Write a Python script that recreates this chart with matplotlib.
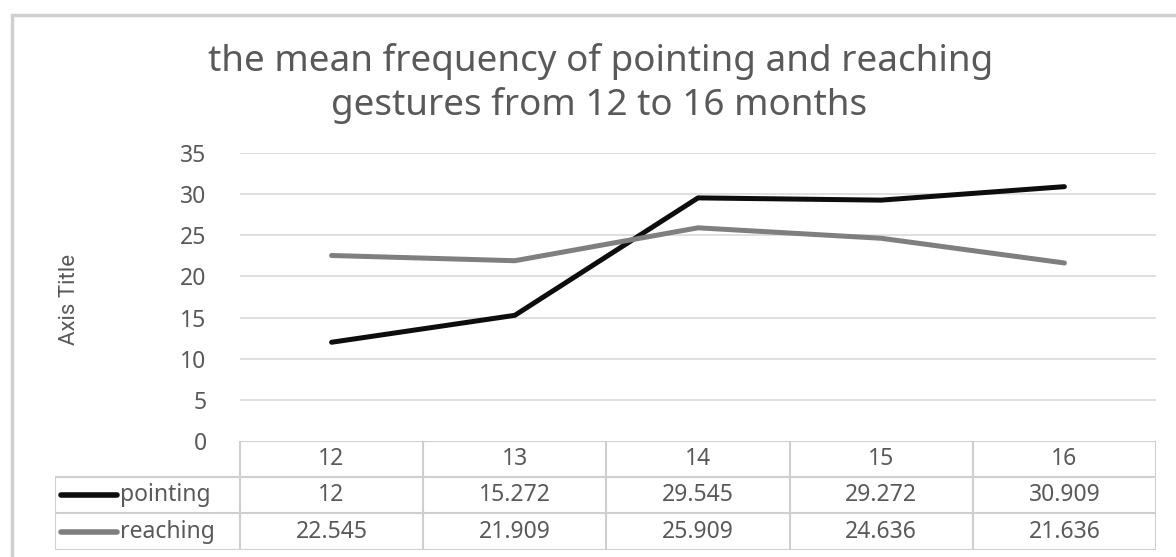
import matplotlib

matplotlib.use("Agg")
import matplotlib.pyplot as plt
from matplotlib.patches import Rectangle

plt.rcParams["font.family"] = ["Noto Sans", "DejaVu Sans"]

months = ["12", "13", "14", "15", "16"]
pointing = [12, 15.272, 29.545, 29.272, 30.909]
reaching = [22.545, 21.909, 25.909, 24.636, 21.636]
pointing_labels = ["12", "15.272", "29.545", "29.272", "30.909"]
reaching_labels = ["22.545", "21.909", "25.909", "24.636", "21.636"]
yticks = [0, 5, 10, 15, 20, 25, 30, 35]

W, H = 1176, 557
TEXT = "#595959"
GRID = "#dcdcdc"
BLACK = "#0d0d0d"
GREY = "#7f7f7f"
FS = 16.5

fig = plt.figure(figsize=(W / 100, H / 100), dpi=100)
fig.patch.set_facecolor("white")

# outer chart border
fig.patches.append(Rectangle((12 / W, -0.02), 1.1, (H - 15) / H + 0.02,
                             transform=fig.transFigure, fill=False,
                             edgecolor="#d0d0d0", linewidth=2.5))

fig.text(601 / W, (H - 62) / H, "the mean frequency of pointing and reaching",
         ha="center", va="center", fontsize=26.5, color=TEXT)
fig.text(599 / W, (H - 105) / H, "gestures from 12 to 16 months",
         ha="center", va="center", fontsize=26.5, color=TEXT)

x0, x1 = 240, 1156
y_top, y_base = 153, 441
ax = fig.add_axes([x0 / W, (H - y_base) / H, (x1 - x0) / W, (y_base - y_top) / H])
x = list(range(len(months)))
ax.plot(x, pointing, color=BLACK, linewidth=3.6, solid_capstyle="round",
        solid_joinstyle="round", zorder=3)
ax.plot(x, reaching, color=GREY, linewidth=3.6, solid_capstyle="round",
        solid_joinstyle="round", zorder=3)
ax.set_xlim(-0.5, len(months) - 0.5)
ax.set_ylim(0, 35)
ax.set_yticks(yticks)
ax.set_xticks([])
ax.tick_params(axis="y", length=0, pad=24, labelsize=FS, labelcolor=TEXT)
for t in yticks[1:]:
    ax.axhline(t, color=GRID, linewidth=1.3, zorder=1)
for s in ax.spines.values():
    s.set_visible(False)
ax.set_ylabel("Axis Title", fontsize=16, color=TEXT, labelpad=0,
              family=["Liberation Sans Narrow", "Roboto", "DejaVu Sans"])
ax.yaxis.set_label_coords(-(x0 - 80) / (x1 - x0), 0.49)

# data table
tx0, ty0, ty1 = 55, 441, 550
tab = fig.add_axes([tx0 / W, (H - ty1) / H, (x1 - tx0) / W, (ty1 - ty0) / H])
tab.set_xlim(tx0, x1)
tab.set_ylim(ty1, ty0)
tab.axis("off")
n = len(months)
cw = (x1 - x0) / n
rows = [441, 477, 513, 550]
lc = "#cfcfcf"
tab.plot([x0, x1], [rows[0], rows[0]], color=lc, lw=1.5)
for r in rows[1:]:
    tab.plot([tx0, x1], [r, r], color=lc, lw=1.5)
tab.plot([tx0, tx0], [rows[1], rows[3]], color=lc, lw=1.5)
for i in range(n + 1):
    xx = x0 + i * cw
    tab.plot([xx, xx], [rows[0], rows[3]], color=lc, lw=1.5)

for i in range(n):
    cx = x0 + (i + 0.5) * cw
    tab.text(cx, (rows[0] + rows[1]) / 2, months[i], ha="center", va="center",
             fontsize=FS, color=TEXT)
    tab.text(cx, (rows[1] + rows[2]) / 2, pointing_labels[i], ha="center", va="center",
             fontsize=FS, color=TEXT)
    tab.text(cx, (rows[2] + rows[3]) / 2, reaching_labels[i], ha="center", va="center",
             fontsize=FS, color=TEXT)

for r, name, col in [(0, "pointing", BLACK), (1, "reaching", GREY)]:
    yc = (rows[r + 1] + rows[r + 2]) / 2
    tab.plot([61, 117], [yc, yc], color=col, lw=4, solid_capstyle="round")
    tab.text(120, yc, name, ha="left", va="center", fontsize=FS, color=TEXT)

fig.savefig("out.png", dpi=100, facecolor="white")
